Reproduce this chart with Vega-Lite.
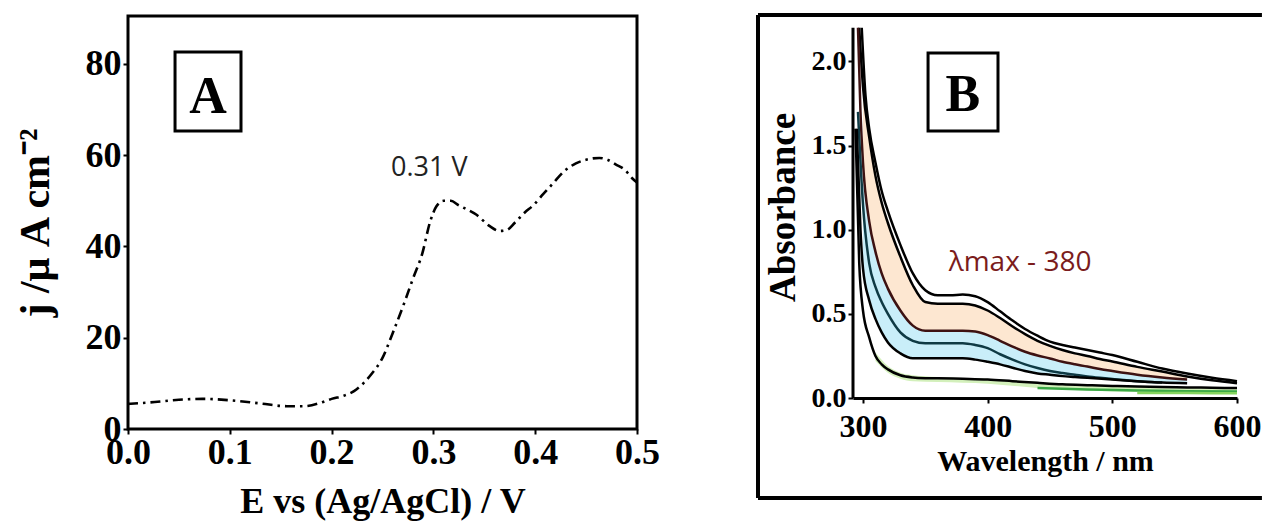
{
  "$schema": "https://vega.github.io/schema/vega-lite/v6.json",
  "background": "white",
  "padding": {"left": 12, "top": 12, "right": 0, "bottom": 0},
  "spacing": 216,
  "bounds": "flush",
  "config": {
    "axis": {
      "grid": false,
      "labelColor": "black",
      "titleColor": "black",
      "tickColor": "black",
      "domainColor": "black",
      "labelFont": "Liberation Serif",
      "titleFont": "Liberation Serif",
      "labelFontWeight": "bold",
      "titleFontWeight": "bold",
      "labelFlush": false,
      "labelOverlap": false,
      "tickSize": 5,
      "tickWidth": 2
    }
  },
  "datasets": {
    "cv": [
      {"E": 0.0, "j": 5.5}, {"E": 0.02, "j": 5.8}, {"E": 0.05, "j": 6.4}, {"E": 0.073, "j": 6.6},
      {"E": 0.1, "j": 6.3}, {"E": 0.13, "j": 5.6}, {"E": 0.156, "j": 5.0}, {"E": 0.173, "j": 5.0},
      {"E": 0.19, "j": 5.8}, {"E": 0.2, "j": 6.6}, {"E": 0.212, "j": 7.3}, {"E": 0.222, "j": 8.3},
      {"E": 0.232, "j": 10.2}, {"E": 0.239, "j": 12}, {"E": 0.25, "j": 15.6}, {"E": 0.26, "j": 21},
      {"E": 0.272, "j": 28}, {"E": 0.28, "j": 33}, {"E": 0.289, "j": 38.4}, {"E": 0.297, "j": 45.6},
      {"E": 0.303, "j": 48.8}, {"E": 0.31, "j": 50}, {"E": 0.317, "j": 50}, {"E": 0.325, "j": 49},
      {"E": 0.334, "j": 48}, {"E": 0.342, "j": 47}, {"E": 0.355, "j": 44.5}, {"E": 0.365, "j": 43.4},
      {"E": 0.372, "j": 43.6}, {"E": 0.38, "j": 45.2}, {"E": 0.39, "j": 47.5}, {"E": 0.398, "j": 49},
      {"E": 0.408, "j": 51.5}, {"E": 0.417, "j": 53.7}, {"E": 0.429, "j": 56.6}, {"E": 0.44, "j": 58.2},
      {"E": 0.45, "j": 59}, {"E": 0.463, "j": 59.4}, {"E": 0.471, "j": 59}, {"E": 0.479, "j": 58},
      {"E": 0.488, "j": 56.8}, {"E": 0.495, "j": 55}, {"E": 0.5, "j": 54}
    ],
    "uv": [
      {"curve": "c1", "wl": 299, "A": 2.2}, {"curve": "c1", "wl": 302, "A": 1.8}, {"curve": "c1", "wl": 305, "A": 1.6},
      {"curve": "c1", "wl": 310, "A": 1.4}, {"curve": "c1", "wl": 315, "A": 1.23}, {"curve": "c1", "wl": 320, "A": 1.11},
      {"curve": "c1", "wl": 330, "A": 0.91}, {"curve": "c1", "wl": 340, "A": 0.74}, {"curve": "c1", "wl": 350, "A": 0.64},
      {"curve": "c1", "wl": 360, "A": 0.61}, {"curve": "c1", "wl": 370, "A": 0.61}, {"curve": "c1", "wl": 380, "A": 0.615},
      {"curve": "c1", "wl": 390, "A": 0.605}, {"curve": "c1", "wl": 400, "A": 0.57}, {"curve": "c1", "wl": 410, "A": 0.515},
      {"curve": "c1", "wl": 420, "A": 0.46}, {"curve": "c1", "wl": 430, "A": 0.41}, {"curve": "c1", "wl": 440, "A": 0.37},
      {"curve": "c1", "wl": 450, "A": 0.335}, {"curve": "c1", "wl": 460, "A": 0.315}, {"curve": "c1", "wl": 470, "A": 0.3},
      {"curve": "c1", "wl": 480, "A": 0.285}, {"curve": "c1", "wl": 490, "A": 0.27}, {"curve": "c1", "wl": 500, "A": 0.255},
      {"curve": "c1", "wl": 520, "A": 0.215}, {"curve": "c1", "wl": 540, "A": 0.175}, {"curve": "c1", "wl": 560, "A": 0.145},
      {"curve": "c1", "wl": 580, "A": 0.12}, {"curve": "c1", "wl": 600, "A": 0.1},

      {"curve": "c2", "wl": 297, "A": 2.2}, {"curve": "c2", "wl": 300, "A": 1.85}, {"curve": "c2", "wl": 305, "A": 1.55},
      {"curve": "c2", "wl": 310, "A": 1.32}, {"curve": "c2", "wl": 315, "A": 1.16}, {"curve": "c2", "wl": 320, "A": 1.04},
      {"curve": "c2", "wl": 330, "A": 0.84}, {"curve": "c2", "wl": 340, "A": 0.67}, {"curve": "c2", "wl": 350, "A": 0.57},
      {"curve": "c2", "wl": 360, "A": 0.56}, {"curve": "c2", "wl": 370, "A": 0.56}, {"curve": "c2", "wl": 380, "A": 0.56},
      {"curve": "c2", "wl": 390, "A": 0.55}, {"curve": "c2", "wl": 400, "A": 0.52}, {"curve": "c2", "wl": 410, "A": 0.475},
      {"curve": "c2", "wl": 420, "A": 0.425}, {"curve": "c2", "wl": 430, "A": 0.38}, {"curve": "c2", "wl": 440, "A": 0.34},
      {"curve": "c2", "wl": 450, "A": 0.31}, {"curve": "c2", "wl": 460, "A": 0.285}, {"curve": "c2", "wl": 470, "A": 0.265},
      {"curve": "c2", "wl": 480, "A": 0.25}, {"curve": "c2", "wl": 490, "A": 0.232}, {"curve": "c2", "wl": 500, "A": 0.217},
      {"curve": "c2", "wl": 520, "A": 0.185}, {"curve": "c2", "wl": 540, "A": 0.157}, {"curve": "c2", "wl": 560, "A": 0.128},
      {"curve": "c2", "wl": 580, "A": 0.105}, {"curve": "c2", "wl": 600, "A": 0.088},

      {"curve": "c3", "wl": 296, "A": 2.2}, {"curve": "c3", "wl": 298, "A": 1.7}, {"curve": "c3", "wl": 300, "A": 1.4},
      {"curve": "c3", "wl": 305, "A": 1.05}, {"curve": "c3", "wl": 310, "A": 0.87}, {"curve": "c3", "wl": 315, "A": 0.74},
      {"curve": "c3", "wl": 320, "A": 0.65}, {"curve": "c3", "wl": 330, "A": 0.52}, {"curve": "c3", "wl": 340, "A": 0.43},
      {"curve": "c3", "wl": 350, "A": 0.4}, {"curve": "c3", "wl": 360, "A": 0.4}, {"curve": "c3", "wl": 370, "A": 0.4},
      {"curve": "c3", "wl": 380, "A": 0.4}, {"curve": "c3", "wl": 390, "A": 0.395}, {"curve": "c3", "wl": 400, "A": 0.374},
      {"curve": "c3", "wl": 410, "A": 0.34}, {"curve": "c3", "wl": 420, "A": 0.305}, {"curve": "c3", "wl": 430, "A": 0.275},
      {"curve": "c3", "wl": 440, "A": 0.253}, {"curve": "c3", "wl": 450, "A": 0.235}, {"curve": "c3", "wl": 460, "A": 0.215},
      {"curve": "c3", "wl": 470, "A": 0.2}, {"curve": "c3", "wl": 480, "A": 0.187}, {"curve": "c3", "wl": 490, "A": 0.172},
      {"curve": "c3", "wl": 500, "A": 0.16}, {"curve": "c3", "wl": 520, "A": 0.138}, {"curve": "c3", "wl": 540, "A": 0.122},
      {"curve": "c3", "wl": 560, "A": 0.11},

      {"curve": "c4", "wl": 296, "A": 1.7}, {"curve": "c4", "wl": 300, "A": 1.15}, {"curve": "c4", "wl": 305, "A": 0.8},
      {"curve": "c4", "wl": 310, "A": 0.66}, {"curve": "c4", "wl": 315, "A": 0.57}, {"curve": "c4", "wl": 320, "A": 0.5},
      {"curve": "c4", "wl": 330, "A": 0.39}, {"curve": "c4", "wl": 340, "A": 0.34}, {"curve": "c4", "wl": 350, "A": 0.325},
      {"curve": "c4", "wl": 360, "A": 0.325}, {"curve": "c4", "wl": 370, "A": 0.325}, {"curve": "c4", "wl": 380, "A": 0.325},
      {"curve": "c4", "wl": 390, "A": 0.315}, {"curve": "c4", "wl": 400, "A": 0.296}, {"curve": "c4", "wl": 410, "A": 0.26},
      {"curve": "c4", "wl": 420, "A": 0.228}, {"curve": "c4", "wl": 430, "A": 0.2}, {"curve": "c4", "wl": 440, "A": 0.178},
      {"curve": "c4", "wl": 450, "A": 0.16}, {"curve": "c4", "wl": 460, "A": 0.148}, {"curve": "c4", "wl": 470, "A": 0.138},
      {"curve": "c4", "wl": 480, "A": 0.128}, {"curve": "c4", "wl": 490, "A": 0.12}, {"curve": "c4", "wl": 500, "A": 0.113},
      {"curve": "c4", "wl": 520, "A": 0.1}, {"curve": "c4", "wl": 540, "A": 0.092},

      {"curve": "c5", "wl": 295, "A": 1.6}, {"curve": "c5", "wl": 298, "A": 1.0}, {"curve": "c5", "wl": 300, "A": 0.77},
      {"curve": "c5", "wl": 305, "A": 0.58}, {"curve": "c5", "wl": 310, "A": 0.47}, {"curve": "c5", "wl": 315, "A": 0.39},
      {"curve": "c5", "wl": 320, "A": 0.33}, {"curve": "c5", "wl": 330, "A": 0.265}, {"curve": "c5", "wl": 340, "A": 0.236},
      {"curve": "c5", "wl": 350, "A": 0.236}, {"curve": "c5", "wl": 360, "A": 0.236}, {"curve": "c5", "wl": 370, "A": 0.236},
      {"curve": "c5", "wl": 380, "A": 0.236}, {"curve": "c5", "wl": 390, "A": 0.228}, {"curve": "c5", "wl": 400, "A": 0.215},
      {"curve": "c5", "wl": 410, "A": 0.2}, {"curve": "c5", "wl": 420, "A": 0.18}, {"curve": "c5", "wl": 430, "A": 0.16},
      {"curve": "c5", "wl": 440, "A": 0.146}, {"curve": "c5", "wl": 450, "A": 0.138}, {"curve": "c5", "wl": 460, "A": 0.13},
      {"curve": "c5", "wl": 470, "A": 0.125}, {"curve": "c5", "wl": 480, "A": 0.12}, {"curve": "c5", "wl": 500, "A": 0.11},
      {"curve": "c5", "wl": 520, "A": 0.1}, {"curve": "c5", "wl": 540, "A": 0.092}, {"curve": "c5", "wl": 560, "A": 0.088},

      {"curve": "c6", "wl": 294, "A": 1.6}, {"curve": "c6", "wl": 297, "A": 0.8}, {"curve": "c6", "wl": 300, "A": 0.52},
      {"curve": "c6", "wl": 305, "A": 0.36}, {"curve": "c6", "wl": 310, "A": 0.25}, {"curve": "c6", "wl": 315, "A": 0.2},
      {"curve": "c6", "wl": 320, "A": 0.17}, {"curve": "c6", "wl": 330, "A": 0.135}, {"curve": "c6", "wl": 340, "A": 0.122},
      {"curve": "c6", "wl": 350, "A": 0.118}, {"curve": "c6", "wl": 360, "A": 0.117}, {"curve": "c6", "wl": 380, "A": 0.114},
      {"curve": "c6", "wl": 400, "A": 0.11}, {"curve": "c6", "wl": 420, "A": 0.1}, {"curve": "c6", "wl": 440, "A": 0.09},
      {"curve": "c6", "wl": 460, "A": 0.081}, {"curve": "c6", "wl": 480, "A": 0.076}, {"curve": "c6", "wl": 500, "A": 0.072},
      {"curve": "c6", "wl": 520, "A": 0.069}, {"curve": "c6", "wl": 540, "A": 0.066}, {"curve": "c6", "wl": 560, "A": 0.063},
      {"curve": "c6", "wl": 580, "A": 0.061}, {"curve": "c6", "wl": 600, "A": 0.059},

      {"curve": "g1", "wl": 440, "A": 0.06}, {"curve": "g1", "wl": 480, "A": 0.05}, {"curve": "g1", "wl": 520, "A": 0.045},
      {"curve": "g1", "wl": 560, "A": 0.04}, {"curve": "g1", "wl": 600, "A": 0.038},
      {"curve": "g2", "wl": 520, "A": 0.03}, {"curve": "g2", "wl": 560, "A": 0.029}, {"curve": "g2", "wl": 600, "A": 0.028}
    ],
    "bands": [
      {"band": "peach", "wl": 300, "hi": 1.85, "lo": 1.4}, {"band": "peach", "wl": 305, "hi": 1.55, "lo": 1.05},
      {"band": "peach", "wl": 310, "hi": 1.32, "lo": 0.87}, {"band": "peach", "wl": 315, "hi": 1.16, "lo": 0.74},
      {"band": "peach", "wl": 320, "hi": 1.04, "lo": 0.65}, {"band": "peach", "wl": 330, "hi": 0.84, "lo": 0.52},
      {"band": "peach", "wl": 340, "hi": 0.67, "lo": 0.43}, {"band": "peach", "wl": 350, "hi": 0.57, "lo": 0.4},
      {"band": "peach", "wl": 360, "hi": 0.56, "lo": 0.4}, {"band": "peach", "wl": 370, "hi": 0.56, "lo": 0.4},
      {"band": "peach", "wl": 380, "hi": 0.56, "lo": 0.4}, {"band": "peach", "wl": 390, "hi": 0.55, "lo": 0.395},
      {"band": "peach", "wl": 400, "hi": 0.52, "lo": 0.374}, {"band": "peach", "wl": 410, "hi": 0.475, "lo": 0.34},
      {"band": "peach", "wl": 420, "hi": 0.425, "lo": 0.305}, {"band": "peach", "wl": 430, "hi": 0.38, "lo": 0.275},
      {"band": "peach", "wl": 440, "hi": 0.34, "lo": 0.253}, {"band": "peach", "wl": 450, "hi": 0.31, "lo": 0.235},
      {"band": "peach", "wl": 460, "hi": 0.285, "lo": 0.215}, {"band": "peach", "wl": 470, "hi": 0.265, "lo": 0.2},
      {"band": "peach", "wl": 480, "hi": 0.25, "lo": 0.187}, {"band": "peach", "wl": 490, "hi": 0.232, "lo": 0.172},
      {"band": "peach", "wl": 500, "hi": 0.217, "lo": 0.16}, {"band": "peach", "wl": 520, "hi": 0.185, "lo": 0.138},
      {"band": "peach", "wl": 540, "hi": 0.157, "lo": 0.122}, {"band": "peach", "wl": 560, "hi": 0.128, "lo": 0.11},

      {"band": "cyan", "wl": 300, "hi": 1.4, "lo": 0.77}, {"band": "cyan", "wl": 305, "hi": 1.05, "lo": 0.58},
      {"band": "cyan", "wl": 310, "hi": 0.87, "lo": 0.47}, {"band": "cyan", "wl": 315, "hi": 0.74, "lo": 0.39},
      {"band": "cyan", "wl": 320, "hi": 0.65, "lo": 0.33}, {"band": "cyan", "wl": 330, "hi": 0.52, "lo": 0.265},
      {"band": "cyan", "wl": 340, "hi": 0.43, "lo": 0.236}, {"band": "cyan", "wl": 350, "hi": 0.4, "lo": 0.236},
      {"band": "cyan", "wl": 360, "hi": 0.4, "lo": 0.236}, {"band": "cyan", "wl": 370, "hi": 0.4, "lo": 0.236},
      {"band": "cyan", "wl": 380, "hi": 0.4, "lo": 0.236}, {"band": "cyan", "wl": 390, "hi": 0.395, "lo": 0.228},
      {"band": "cyan", "wl": 400, "hi": 0.374, "lo": 0.215}, {"band": "cyan", "wl": 410, "hi": 0.34, "lo": 0.2},
      {"band": "cyan", "wl": 420, "hi": 0.305, "lo": 0.18}, {"band": "cyan", "wl": 430, "hi": 0.275, "lo": 0.16},
      {"band": "cyan", "wl": 440, "hi": 0.253, "lo": 0.146}, {"band": "cyan", "wl": 450, "hi": 0.235, "lo": 0.138},
      {"band": "cyan", "wl": 460, "hi": 0.215, "lo": 0.13}, {"band": "cyan", "wl": 470, "hi": 0.2, "lo": 0.125},
      {"band": "cyan", "wl": 480, "hi": 0.187, "lo": 0.12}, {"band": "cyan", "wl": 500, "hi": 0.16, "lo": 0.11},
      {"band": "cyan", "wl": 520, "hi": 0.138, "lo": 0.1}, {"band": "cyan", "wl": 540, "hi": 0.122, "lo": 0.092},
      {"band": "cyan", "wl": 560, "hi": 0.11, "lo": 0.088},

      {"band": "green", "wl": 310, "hi": 0.27, "lo": 0.22}, {"band": "green", "wl": 320, "hi": 0.19, "lo": 0.15},
      {"band": "green", "wl": 330, "hi": 0.15, "lo": 0.115}, {"band": "green", "wl": 340, "hi": 0.135, "lo": 0.1},
      {"band": "green", "wl": 360, "hi": 0.125, "lo": 0.095}, {"band": "green", "wl": 400, "hi": 0.115, "lo": 0.085},
      {"band": "green", "wl": 440, "hi": 0.095, "lo": 0.06}, {"band": "green", "wl": 480, "hi": 0.08, "lo": 0.045},
      {"band": "green", "wl": 520, "hi": 0.072, "lo": 0.035}, {"band": "green", "wl": 560, "hi": 0.066, "lo": 0.03},
      {"band": "green", "wl": 600, "hi": 0.062, "lo": 0.028}
    ]
  },
  "hconcat": [
    {
      "width": 509,
      "height": 413,
      "view": {"stroke": "black", "strokeWidth": 3},
      "layer": [
        {
          "data": {"name": "cv"},
          "mark": {"type": "line", "color": "black", "strokeWidth": 2.6, "strokeDash": [10, 5, 2.5, 5], "interpolate": "monotone"},
          "encoding": {
            "x": {
              "field": "E", "type": "quantitative",
              "scale": {"domain": [0, 0.5], "nice": false, "zero": false},
              "axis": {
                "values": [0, 0.1, 0.2, 0.3, 0.4, 0.5], "format": ".1f",
                "domain": false, "labelFontSize": 36, "labelPadding": 1,
                "title": "E vs (Ag/AgCl) / V", "titleFontSize": 36, "titlePadding": 14
              }
            },
            "y": {
              "field": "j", "type": "quantitative",
              "scale": {"domain": [0, 90.5], "nice": false, "zero": false},
              "axis": {
                "values": [0, 20, 40, 60, 80], "format": "d",
                "domain": false, "labelFontSize": 36, "labelPadding": 2,
                "title": "j /μ A cm⁻²", "titleFontSize": 42, "titlePadding": 28
              }
            }
          }
        },
        {
          "data": {"values": [{}]},
          "mark": {"type": "rect", "fill": "white", "stroke": "black", "strokeWidth": 3},
          "encoding": {
            "x": {"datum": 0.0462, "type": "quantitative", "scale": {"domain": [0, 0.5], "nice": false, "zero": false}},
            "x2": {"datum": 0.111},
            "y": {"datum": 82.6, "type": "quantitative", "scale": {"domain": [0, 90.5], "nice": false, "zero": false}},
            "y2": {"datum": 65.3}
          }
        },
        {
          "data": {"values": [{}]},
          "mark": {"type": "text", "text": "A", "font": "Liberation Serif", "fontWeight": "bold", "fontSize": 52, "color": "black", "baseline": "middle", "align": "center"},
          "encoding": {
            "x": {"datum": 0.0785, "type": "quantitative", "scale": {"domain": [0, 0.5], "nice": false, "zero": false}},
            "y": {"datum": 72.7, "type": "quantitative", "scale": {"domain": [0, 90.5], "nice": false, "zero": false}}
          }
        },
        {
          "data": {"values": [{}]},
          "mark": {"type": "text", "text": "0.31 V", "font": "Open Sans", "fontSize": 27, "color": "#222222", "baseline": "middle", "align": "center"},
          "encoding": {
            "x": {"datum": 0.296, "type": "quantitative", "scale": {"domain": [0, 0.5], "nice": false, "zero": false}},
            "y": {"datum": 57.2, "type": "quantitative", "scale": {"domain": [0, 90.5], "nice": false, "zero": false}}
          }
        }
      ]
    },
    {
      "width": 384,
      "height": 382,
      "view": {"stroke": null},
      "layer": [
        {
          "data": {"name": "bands"},
          "mark": {"type": "area", "interpolate": "monotone"},
          "encoding": {
            "x": {
              "field": "wl", "type": "quantitative",
              "scale": {"domain": [292, 600], "nice": false, "zero": false},
              "axis": {
                "values": [300, 400, 500, 600], "domainWidth": 3,
                "labelFontSize": 32, "labelPadding": 8,
                "title": "Wavelength / nm", "titleFontSize": 30, "titlePadding": 4
              }
            },
            "y": {
              "field": "hi", "type": "quantitative",
              "scale": {"domain": [0, 2.27], "nice": false, "zero": false},
              "axis": {
                "values": [0, 0.5, 1, 1.5, 2], "format": ".1f", "domain": false,
                "labelFontSize": 28, "labelPadding": 2,
                "title": "Absorbance", "titleFontSize": 37, "titlePadding": 9
              }
            },
            "y2": {"field": "lo"},
            "fill": {
              "field": "band", "type": "nominal", "legend": null,
              "scale": {"domain": ["peach", "cyan", "green"], "range": ["#fde7d1", "#c9eef9", "#d3f0bb"]}
            }
          }
        },
        {
          "data": {"name": "uv"},
          "mark": {"type": "line", "interpolate": "monotone"},
          "encoding": {
            "x": {"field": "wl", "type": "quantitative", "scale": {"domain": [292, 600], "nice": false, "zero": false}},
            "y": {"field": "A", "type": "quantitative", "scale": {"domain": [0, 2.27], "nice": false, "zero": false}},
            "stroke": {
              "field": "curve", "type": "nominal", "legend": null,
              "scale": {
                "domain": ["c1", "c2", "c3", "c4", "c5", "c6", "g1", "g2"],
                "range": ["#000000", "#000000", "#3d1212", "#0f3a44", "#000000", "#000000", "#3aa845", "#86d45e"]
              }
            },
            "strokeWidth": {
              "field": "curve", "type": "nominal", "legend": null,
              "scale": {
                "domain": ["c1", "c2", "c3", "c4", "c5", "c6", "g1", "g2"],
                "range": [2.5, 2.5, 2.5, 2.3, 2.5, 2.8, 1.8, 1.8]
              }
            }
          }
        },
        {
          "data": {"values": [{}]},
          "mark": {"type": "rule", "color": "black", "strokeWidth": 3},
          "encoding": {
            "x": {"datum": 292, "type": "quantitative", "scale": {"domain": [292, 600], "nice": false, "zero": false}},
            "y": {"datum": 0, "type": "quantitative", "scale": {"domain": [0, 2.27], "nice": false, "zero": false}},
            "y2": {"datum": 2.2}
          }
        },
        {
          "data": {"values": [{}]},
          "mark": {"type": "rule", "color": "black", "strokeWidth": 4},
          "encoding": {
            "x": {"datum": 215.8, "type": "quantitative", "scale": {"domain": [292, 600], "nice": false, "zero": false}},
            "y": {"datum": -0.594, "type": "quantitative", "scale": {"domain": [0, 2.27], "nice": false, "zero": false}},
            "y2": {"datum": 2.276}
          }
        },
        {
          "data": {"values": [{}]},
          "mark": {"type": "rule", "color": "black", "strokeWidth": 4},
          "encoding": {
            "x": {"datum": 215.8, "type": "quantitative", "scale": {"domain": [292, 600], "nice": false, "zero": false}},
            "x2": {"datum": 620},
            "y": {"datum": 2.276, "type": "quantitative", "scale": {"domain": [0, 2.27], "nice": false, "zero": false}}
          }
        },
        {
          "data": {"values": [{}]},
          "mark": {"type": "rule", "color": "black", "strokeWidth": 4},
          "encoding": {
            "x": {"datum": 215.8, "type": "quantitative", "scale": {"domain": [292, 600], "nice": false, "zero": false}},
            "x2": {"datum": 620},
            "y": {"datum": -0.594, "type": "quantitative", "scale": {"domain": [0, 2.27], "nice": false, "zero": false}}
          }
        },
        {
          "data": {"values": [{}]},
          "mark": {"type": "rect", "fill": "white", "stroke": "black", "strokeWidth": 3},
          "encoding": {
            "x": {"datum": 352.2, "type": "quantitative", "scale": {"domain": [292, 600], "nice": false, "zero": false}},
            "x2": {"datum": 408.3},
            "y": {"datum": 2.05, "type": "quantitative", "scale": {"domain": [0, 2.27], "nice": false, "zero": false}},
            "y2": {"datum": 1.586}
          }
        },
        {
          "data": {"values": [{}]},
          "mark": {"type": "text", "text": "B", "font": "Liberation Serif", "fontWeight": "bold", "fontSize": 52, "color": "black", "baseline": "middle", "align": "center"},
          "encoding": {
            "x": {"datum": 380.2, "type": "quantitative", "scale": {"domain": [292, 600], "nice": false, "zero": false}},
            "y": {"datum": 1.8, "type": "quantitative", "scale": {"domain": [0, 2.27], "nice": false, "zero": false}}
          }
        },
        {
          "data": {"values": [{}]},
          "mark": {"type": "text", "text": "λmax - 380", "font": "Open Sans", "fontSize": 28, "color": "#7b1c1c", "baseline": "middle", "align": "center"},
          "encoding": {
            "x": {"datum": 426, "type": "quantitative", "scale": {"domain": [292, 600], "nice": false, "zero": false}},
            "y": {"datum": 0.8, "type": "quantitative", "scale": {"domain": [0, 2.27], "nice": false, "zero": false}}
          }
        }
      ]
    }
  ]
}
